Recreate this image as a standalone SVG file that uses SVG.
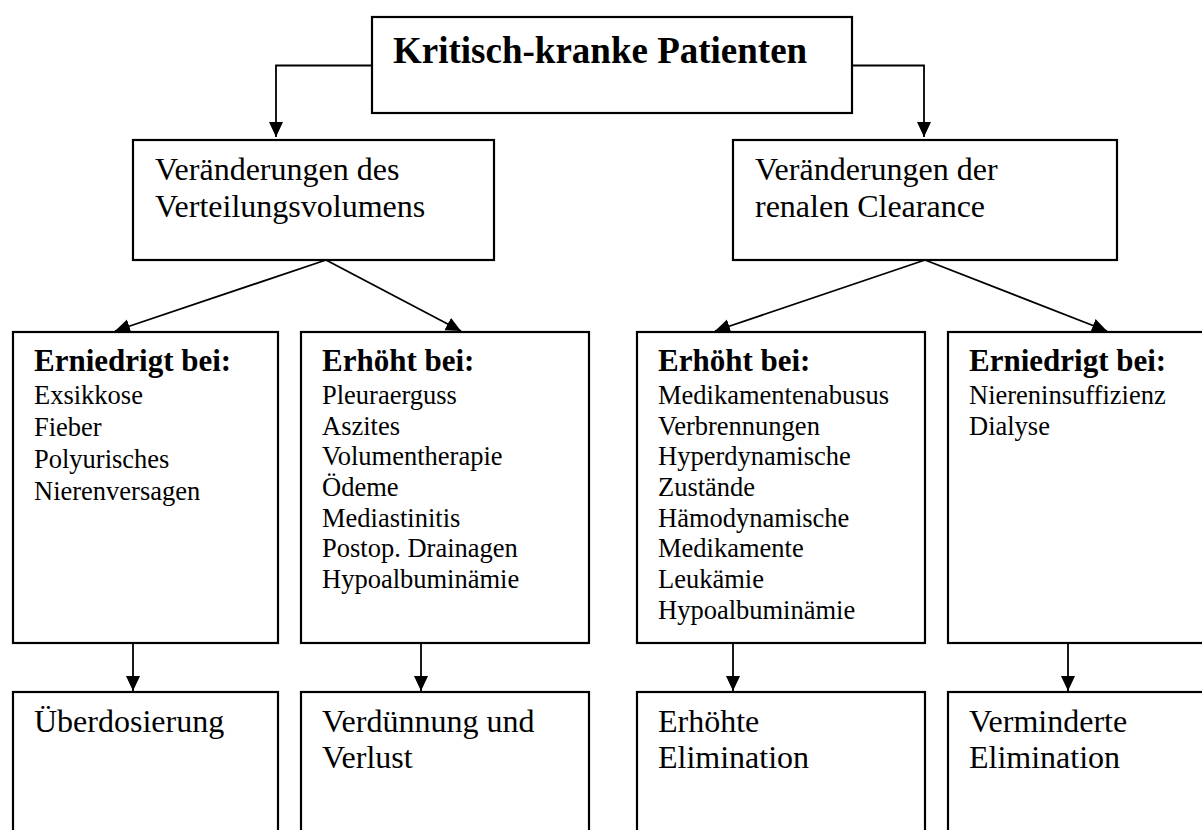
<svg xmlns="http://www.w3.org/2000/svg" width="1202" height="830" viewBox="0 0 1202 830">
<defs>
<style>
.box{fill:#fff;stroke:#000;stroke-width:2.2}
.edge{fill:none;stroke:#000;stroke-width:1.8}
text{font-family:"Liberation Serif","Times New Roman",serif;fill:#000}
.title{font-size:37px;font-weight:bold}
.l2{font-size:32px}
.hd{font-size:31px;font-weight:bold}
.li{font-size:26.5px}
.res{font-size:32px}
</style>
<marker id="arr" markerUnits="userSpaceOnUse" markerWidth="16" markerHeight="15" refX="15" refY="7" orient="auto">
<path d="M0,0 L15,7 L0,14 z" fill="#000"/>
</marker>
</defs>
<rect width="1202" height="830" fill="#fff"/>

<g id="connectors">
<path class="edge" d="M372,65.5 H276 V137" marker-end="url(#arr)"/>
<path class="edge" d="M852,65.5 H924 V137" marker-end="url(#arr)"/>
<path class="edge" d="M326,260 L115,331" marker-end="url(#arr)"/>
<path class="edge" d="M326,260 L461,331" marker-end="url(#arr)"/>
<path class="edge" d="M925,260 L715,331" marker-end="url(#arr)"/>
<path class="edge" d="M925,260 L1107,331" marker-end="url(#arr)"/>
<path class="edge" d="M133,643 V691" marker-end="url(#arr)"/>
<path class="edge" d="M421,643 V691" marker-end="url(#arr)"/>
<path class="edge" d="M733,643 V691" marker-end="url(#arr)"/>
<path class="edge" d="M1068,643 V691" marker-end="url(#arr)"/>
</g>

<g id="n-root">
<rect class="box" x="372" y="17" width="480" height="96"/>
<text class="title" x="393" y="63">Kritisch-kranke Patienten</text>
</g>

<g id="n-vd">
<rect class="box" x="133" y="140" width="361" height="120"/>
<text class="l2" x="155" y="180">Veränderungen des</text>
<text class="l2" x="155" y="216.5">Verteilungsvolumens</text>
</g>

<g id="n-cl">
<rect class="box" x="733" y="140" width="384" height="120"/>
<text class="l2" x="755" y="180">Veränderungen der</text>
<text class="l2" x="755" y="216.5">renalen Clearance</text>
</g>

<g id="n-vd-low">
<rect class="box" x="13" y="332" width="265" height="311"/>
<text class="hd" x="34" y="371">Erniedrigt bei:</text>
<text class="li" x="34" y="404">Exsikkose</text>
<text class="li" x="34" y="436">Fieber</text>
<text class="li" x="34" y="468">Polyurisches</text>
<text class="li" x="34" y="500">Nierenversagen</text>
</g>

<g id="n-vd-high">
<rect class="box" x="301" y="332" width="288" height="311"/>
<text class="hd" x="322" y="371">Erhöht bei:</text>
<text class="li" x="322" y="404">Pleuraerguss</text>
<text class="li" x="322" y="434.5">Aszites</text>
<text class="li" x="322" y="465">Volumentherapie</text>
<text class="li" x="322" y="495.5">Ödeme</text>
<text class="li" x="322" y="526.5">Mediastinitis</text>
<text class="li" x="322" y="557">Postop. Drainagen</text>
<text class="li" x="322" y="588">Hypoalbuminämie</text>
</g>

<g id="n-cl-high">
<rect class="box" x="637" y="332" width="288" height="311"/>
<text class="hd" x="658" y="371">Erhöht bei:</text>
<text class="li" x="658" y="403.5">Medikamentenabusus</text>
<text class="li" x="658" y="434.5">Verbrennungen</text>
<text class="li" x="658" y="465">Hyperdynamische</text>
<text class="li" x="658" y="495.5">Zustände</text>
<text class="li" x="658" y="526.5">Hämodynamische</text>
<text class="li" x="658" y="557">Medikamente</text>
<text class="li" x="658" y="588">Leukämie</text>
<text class="li" x="658" y="619">Hypoalbuminämie</text>
</g>

<g id="n-cl-low">
<rect class="box" x="948" y="332" width="270" height="311"/>
<text class="hd" x="969" y="371">Erniedrigt bei:</text>
<text class="li" x="969" y="403.5">Niereninsuffizienz</text>
<text class="li" x="969" y="434.5">Dialyse</text>
</g>

<g id="n-over">
<rect class="box" x="13" y="692" width="265" height="160"/>
<text class="res" x="34" y="732">Überdosierung</text>
</g>

<g id="n-dil">
<rect class="box" x="301" y="692" width="288" height="160"/>
<text class="res" x="322" y="732">Verdünnung und</text>
<text class="res" x="322" y="768">Verlust</text>
</g>

<g id="n-inc">
<rect class="box" x="637" y="692" width="288" height="160"/>
<text class="res" x="658" y="732">Erhöhte</text>
<text class="res" x="658" y="768">Elimination</text>
</g>

<g id="n-dec">
<rect class="box" x="948" y="692" width="270" height="160"/>
<text class="res" x="969" y="732">Verminderte</text>
<text class="res" x="969" y="768">Elimination</text>
</g>
</svg>
